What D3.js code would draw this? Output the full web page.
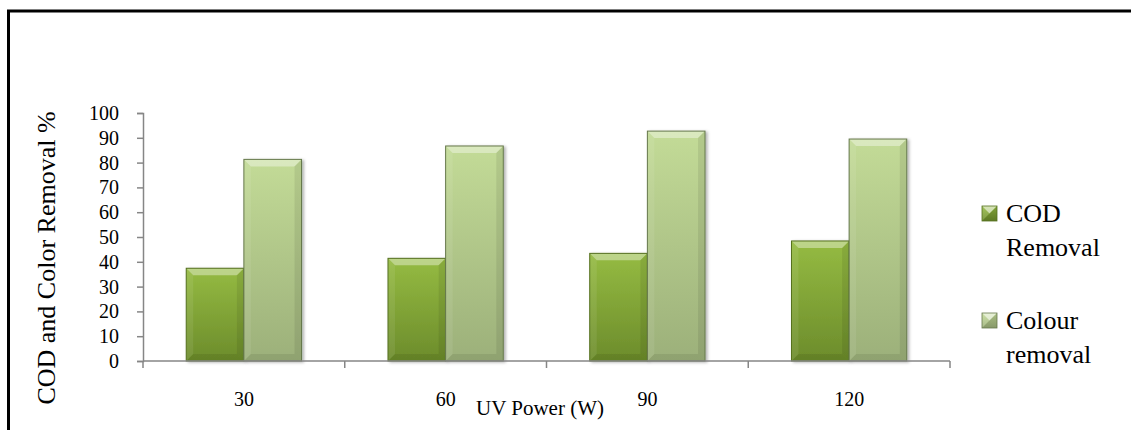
<!DOCTYPE html>
<html>
<head>
<meta charset="utf-8">
<script src="https://cdn.jsdelivr.net/npm/d3@7"></script>
<style>
  html, body { margin: 0; padding: 0; background: #fff; }
  svg { display: block; }
</style>
</head>
<body>
<svg id="chart" width="1131" height="430"></svg>
<script>
// UV power levels (W) and removal efficiencies (%)
const categories = ["30", "60", "90", "120"];
const codRemoval = [37.4, 41.4, 43.4, 48.4];
const colourRemoval = [81.3, 86.7, 92.7, 89.5];
const seriesNames = ["COD Removal", "Colour removal"];
const yTicks = [0, 10, 20, 30, 40, 50, 60, 70, 80, 90, 100];

const serif = "'Liberation Serif', 'Times New Roman', serif";

// body colours and bevel overlays for each series
const palettes = [
  { bodyTop: "#95bb42", bodyBot: "#6c8c2b", stroke: "#55701f" },
  { bodyTop: "#c3db97", bodyBot: "#9cb07a", stroke: "#66784c" }
];
const bevelShade = {
  top: ["#ffffff", 0.38],
  left: ["#ffffff", 0.08],
  right: ["#000000", 0.08],
  bottom: ["#000000", 0.08]
};

const svg = d3.select("#chart");
const defs = svg.append("defs");

palettes.forEach((p, i) => {
  const g = defs.append("linearGradient").attr("id", "body" + i)
    .attr("x1", 0).attr("y1", 0).attr("x2", 0).attr("y2", 1);
  g.append("stop").attr("offset", "0%").attr("stop-color", p.bodyTop);
  g.append("stop").attr("offset", "100%").attr("stop-color", p.bodyBot);
});
const shadow = defs.append("filter").attr("id", "shadow")
  .attr("x", "-20%").attr("y", "-10%").attr("width", "140%").attr("height", "120%");
shadow.append("feDropShadow").attr("dx", 2).attr("dy", 1)
  .attr("stdDeviation", 1.5).attr("flood-color", "#000").attr("flood-opacity", 0.3);

// outer frame
svg.append("rect")
  .attr("x", 8.5).attr("y", 11).attr("width", 1140).attr("height", 440)
  .attr("fill", "none").attr("stroke", "#000").attr("stroke-width", 3);

// scales
const x = d3.scaleBand().domain(categories).range([143, 950]).paddingInner(0).paddingOuter(0);
const xs = d3.scaleBand().domain(seriesNames).range([0, x.bandwidth()])
  .paddingInner(0).paddingOuter(0.75);
const y = d3.scaleLinear().domain([0, 100]).range([361, 113]);

const axisColor = "#868686";

// y axis
const yAxis = svg.append("g").attr("transform", "translate(143,0)")
  .call(d3.axisLeft(y).tickValues(yTicks).tickSize(6).tickPadding(18));
yAxis.select(".domain").attr("stroke", axisColor).attr("stroke-width", 1.5);
yAxis.selectAll(".tick line").attr("stroke", axisColor).attr("stroke-width", 1.5);
yAxis.selectAll(".tick text").style("font-size", "20px")
  .style("font-family", serif).attr("fill", "#000");

// bars with bevelled faces
const data = categories.map((c, i) => ({ cat: c, values: [codRemoval[i], colourRemoval[i]] }));
const bevel = 7;
const bars = svg.append("g");
data.forEach(d => {
  d.values.forEach((v, si) => {
    const p = palettes[si];
    const bx = x(d.cat) + xs(seriesNames[si]);
    const bw = xs.bandwidth();
    const by = y(v);
    const bh = y(0) - y(v);
    const g = bars.append("g").attr("filter", "url(#shadow)");
    g.append("rect").attr("x", bx).attr("y", by).attr("width", bw).attr("height", bh)
      .attr("fill", "url(#body" + si + ")");
    const b = Math.min(bevel, bh / 2, bw / 2);
    const pts = {
      top: [[bx, by], [bx + bw, by], [bx + bw - b, by + b], [bx + b, by + b]],
      left: [[bx, by], [bx + b, by + b], [bx + b, by + bh - b], [bx, by + bh]],
      right: [[bx + bw, by], [bx + bw, by + bh], [bx + bw - b, by + bh - b], [bx + bw - b, by + b]],
      bottom: [[bx, by + bh], [bx + b, by + bh - b], [bx + bw - b, by + bh - b], [bx + bw, by + bh]]
    };
    Object.keys(pts).forEach(k => {
      g.append("polygon").attr("points", pts[k].map(q => q.join(",")).join(" "))
        .attr("fill", bevelShade[k][0]).attr("fill-opacity", bevelShade[k][1]);
    });
    g.append("rect").attr("x", bx).attr("y", by).attr("width", bw).attr("height", bh)
      .attr("fill", "none").attr("stroke", p.stroke).attr("stroke-width", 1);
  });
});

// x axis: labels centred in each band, ticks on band boundaries
const xAxis = svg.append("g").attr("transform", "translate(0,361)")
  .call(d3.axisBottom(x).tickSize(0).tickPadding(31));
xAxis.select(".domain").remove();
xAxis.selectAll(".tick text").style("font-size", "20px")
  .style("font-family", serif).attr("fill", "#000");
svg.append("line").attr("x1", 143).attr("x2", 950).attr("y1", 361).attr("y2", 361)
  .attr("stroke", axisColor).attr("stroke-width", 1.5);
const bounds = categories.map(c => x(c)).concat([x.range()[1]]);
svg.append("g").selectAll("line").data(bounds).join("line")
  .attr("x1", d => d).attr("x2", d => d).attr("y1", 361).attr("y2", 368)
  .attr("stroke", axisColor).attr("stroke-width", 1.5);

// axis titles
svg.append("text").attr("x", 540).attr("y", 415).attr("text-anchor", "middle")
  .style("font-family", serif).style("font-size", "21px").attr("fill", "#000")
  .text("UV Power (W)");
svg.append("text").attr("transform", "translate(55,258) rotate(-90)")
  .attr("text-anchor", "middle").style("font-family", serif).style("font-size", "26px")
  .attr("fill", "#000").text("COD and Color Removal %");

// legend
const legendItems = [
  { lines: ["COD", "Removal"], y: 206 },
  { lines: ["Colour", "removal"], y: 313 }
];
legendItems.forEach((item, i) => {
  const p = palettes[i];
  const mx = 982, my = item.y, s = 15, cx = mx + s / 2, cy = my + s / 2;
  const lg = svg.append("g");
  lg.append("rect").attr("x", mx).attr("y", my).attr("width", s).attr("height", s)
    .attr("fill", "url(#body" + i + ")");
  const tri = {
    top: [[mx, my], [mx + s, my], [cx, cy]],
    left: [[mx, my], [cx, cy], [mx, my + s]],
    right: [[mx + s, my], [mx + s, my + s], [cx, cy]],
    bottom: [[mx, my + s], [cx, cy], [mx + s, my + s]]
  };
  Object.keys(tri).forEach(k => lg.append("polygon")
    .attr("points", tri[k].map(q => q.join(",")).join(" "))
    .attr("fill", bevelShade[k][0]).attr("fill-opacity", bevelShade[k][1] * 1.6));
  lg.append("rect").attr("x", mx).attr("y", my).attr("width", s).attr("height", s)
    .attr("fill", "none").attr("stroke", p.stroke).attr("stroke-width", 0.8);
  item.lines.forEach((t, j) => {
    lg.append("text").attr("x", 1006).attr("y", my + 16 + j * 34)
      .style("font-family", serif).style("font-size", "26px").attr("fill", "#000")
      .text(t);
  });
});
</script>
</body>
</html>
